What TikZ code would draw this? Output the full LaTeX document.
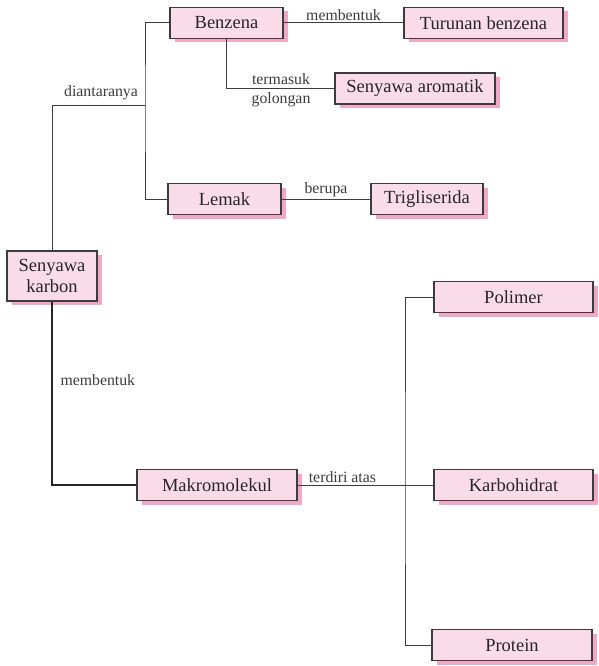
\documentclass[tikz,border=0pt]{standalone}
\usepackage{fontspec}
\setmainfont{Liberation Serif}
\newfontfamily\hurufbox{Liberation Serif}
\usetikzlibrary{shadows}
\definecolor{isi}{HTML}{FADCE8}
\definecolor{bayang}{HTML}{F2A7C7}
\definecolor{garis}{HTML}{3C3C3C}
\begin{document}
\begin{tikzpicture}[x=1pt,y=-1pt,line width=1pt]
	\tikzstyle{kotak}=[draw=garis,line width=1.1pt,fill=isi,text=black!85,inner sep=0pt,minimum height=31pt,align=center,font=\hurufbox\fontsize{18.5}{21}\selectfont,drop shadow={shadow xshift=4.5pt,shadow yshift=-4pt,fill=bayang,opacity=1}];
	\tikzstyle{ket}=[inner sep=2pt,text=garis,font=\hurufbox\fontsize{15.8}{18}\selectfont];
	\useasboundingbox (0,0) rectangle (598,666);
	%% kotak
	\node[kotak,minimum width=90pt,minimum height=50pt] (SK) at (52,276)  {Senyawa\\karbon};
	\node[kotak,minimum width=113pt] (BZ) at (226.5,23)  {Benzena};
	\node[kotak,minimum width=159pt] (TB) at (483.5,23)  {Turunan benzena};
	\node[kotak,minimum width=160pt] (SA) at (415,88.5)  {Senyawa aromatik};
	\node[kotak,minimum width=113pt] (LM) at (224.5,199) {Lemak};
	\node[kotak,minimum width=112pt] (TG) at (427,199)   {Trigliserida};
	\node[kotak,minimum width=160pt] (MK) at (217,485)   {Makromolekul};
	\node[kotak,minimum width=159pt] (PL) at (513.5,297) {Polimer};
	\node[kotak,minimum width=159pt] (KH) at (513.5,485) {Karbohidrat};
	\node[kotak,minimum width=160pt] (PR) at (512,645)   {Protein};
	%% garis
	\coordinate (c1) at (145,106);
	\coordinate (c2) at (405,485);
	\draw[garis] (SK) |- (c1);
	\draw[garis] (BZ.west) -| (c1) |- (LM.west);
	\draw[garis] (BZ) -- node[ket,above]{membentuk} (TB);
	\draw[garis] (BZ) |- (SA);
	\draw[garis] (LM) -- node[ket,above]{berupa} (TG);
	\draw[black!85,line width=1.8pt] (SK) |- (MK);
	\draw[garis] (MK) -- node[ket,above,pos=0.33]{terdiri atas} (KH);
	\draw[garis] (PL.west) -| (c2) |- (PR.west);
	%% keterangan
	\node[ket] (K1) at (101,93)  {diantaranya};
	\node[ket] (K2) at (281,79)  {termasuk};
	\node[ket] (K3) at (281,100) {golongan};
	\node[ket,anchor=west] (K4) at (58,380) {membentuk};
\end{tikzpicture}
\end{document}
